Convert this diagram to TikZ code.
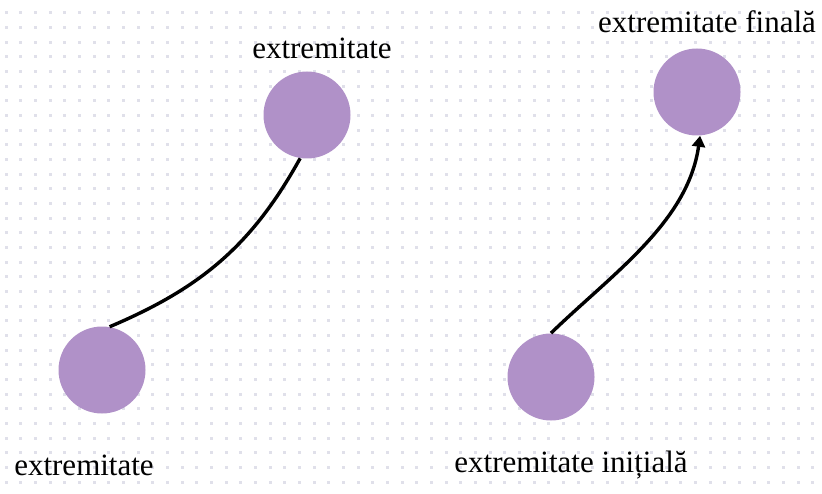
\documentclass[tikz,border=0pt]{standalone}
\usepackage{fontspec}
\setmainfont{Liberation Serif}
\usetikzlibrary{arrows.meta}
\definecolor{endpurple}{RGB}{176,145,200}
\definecolor{dotgray}{RGB}{224,224,234}

\begin{document}
\begin{tikzpicture}[x=0.5pt,y=0.5pt,
    endpt/.style={circle,fill=endpurple,inner sep=0pt,minimum size=43.5pt},
    lbl/.style={font=\fontsize{15.5}{18}\selectfont,inner sep=0pt},
    arc/.style={line width=1.7pt}]
    \useasboundingbox (0,0) rectangle (822,493);
    % Dotted paper
    \fill[white] (0,0) rectangle (822,493);
    \foreach \i in {0,...,55}
      \foreach \j in {0,...,33}
        \fill[dotgray] ({6+14.67*\i-1.5},{480.3-14.67*\j-1.5}) rectangle ++(3,3);
    % Left pair, no direction
    \node[endpt] (lowA) at (102,123) {};
    \node[endpt] (upA) at (307,378) {};
    \node[lbl] (lowAl) at (84,28) {extremitate};
    \node[lbl] (upAl) at (322,445) {extremitate};
    \draw[arc] (lowA.80) to[out=23,in=241] (upA.261);
    % Right pair, directed
    \node[endpt] (lowB) at (551,116) {};
    \node[endpt] (upB) at (697,401) {};
    \node[lbl] (lowBl) at (571,28) {extremitate inițială};
    \node[lbl] (upBl) at (707,471) {extremitate finală};
    \draw[arc,-{Triangle[length=5.5pt,width=6.5pt]}] (lowB.north) to[out=44,in=262,looseness=0.9] (upB.274);
\end{tikzpicture}
\end{document}
